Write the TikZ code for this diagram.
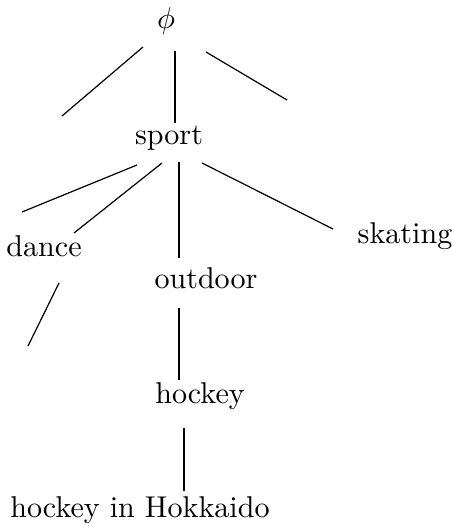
\documentclass[tikz,border=0pt]{standalone}
\usetikzlibrary{calc}
\tikzset{
  word/.style={anchor=base, inner sep=0pt},
  twig/.style={line width=0.4pt},
  stem/.style={line width=0.65pt},
}
\begin{document}
\begin{tikzpicture}[x=0.3322pt, y=-0.3322pt]
  \useasboundingbox (0,0) rectangle (452,524);
  % words, placed on their baselines
  \node[word] (top) at (166,29) {$\phi$};
  \node[word] (sport) at (169,145) {sport};
  \node[word] (dance) at (44,257) {dance};
  \node[word] (skating) at (405,243) {skating};
  \node[word] (outdoor) at (206,288) {outdoor};
  \node[word] (hockey) at (200,403) {hockey};
  \node[word] (hokkaido) at (140,517) {hockey in Hokkaido};
  % loose ends
  \coordinate (topL) at (62,116);
  \coordinate (topR) at (287,100);
  \coordinate (sportL) at (22,212);
  \coordinate (danceL) at (28,346);
  % from phi
  \draw[twig] ($(top.base)+(-23,18)$) -- (topL);
  \draw[stem] ($(top.base)+(9,22)$) -- ($(sport.base)+(6,-22)$);
  \draw[twig] ($(top.base)+(40,23)$) -- (topR);
  % from sport
  \draw[twig] ($(sport.base)+(-32,20)$) -- (sportL);
  \draw[twig] ($(sport.base)+(-7,18)$) -- ($(dance.base)+(30,-24)$);
  \draw[stem] ($(sport.base)+(10,17)$) -- ($(outdoor.base)+(-27,-30)$);
  \draw[twig] ($(sport.base)+(33,18)$) -- ($(skating.base)+(-72,-14)$);
  % below
  \draw[twig] ($(dance.base)+(15,26)$) -- (danceL);
  \draw[stem] ($(outdoor.base)+(-27,20)$) -- ($(hockey.base)+(-21,-23)$);
  \draw[stem] ($(hockey.base)+(-16,25)$) -- ($(hokkaido.base)+(44,-26)$);
\end{tikzpicture}
\end{document}
